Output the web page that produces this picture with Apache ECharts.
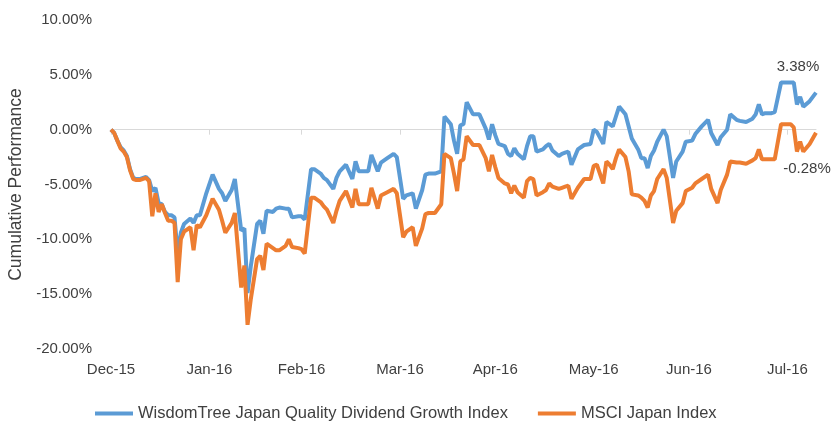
<!DOCTYPE html>
<html>
<head>
<meta charset="utf-8">
<script src="https://cdn.jsdelivr.net/npm/echarts@6/dist/echarts.min.js"></script>
<style>
  html, body { margin: 0; padding: 0; background: #fff; }
  #main { width: 831px; height: 421px; }
</style>
</head>
<body>
<div id="main"></div>
<script>
// cumulative performance, %
const dates = [
  '2015-12-31','2016-01-01','2016-01-02','2016-01-03','2016-01-04','2016-01-05','2016-01-06','2016-01-07','2016-01-08','2016-01-09',
  '2016-01-11','2016-01-12','2016-01-13','2016-01-14','2016-01-15','2016-01-16','2016-01-17','2016-01-18','2016-01-19','2016-01-20',
  '2016-01-21','2016-01-22','2016-01-23','2016-01-25','2016-01-26','2016-01-27','2016-01-28','2016-01-30','2016-02-01','2016-02-03',
  '2016-02-04','2016-02-05','2016-02-07','2016-02-08','2016-02-10','2016-02-11','2016-02-12','2016-02-13','2016-02-15','2016-02-16',
  '2016-02-17','2016-02-18','2016-02-20','2016-02-21','2016-02-22','2016-02-24','2016-02-25','2016-02-26','2016-02-28','2016-02-29',
  '2016-03-01','2016-03-03','2016-03-04','2016-03-06','2016-03-07','2016-03-08','2016-03-10','2016-03-11','2016-03-12','2016-03-14',
  '2016-03-16','2016-03-17','2016-03-18','2016-03-20','2016-03-21','2016-03-22','2016-03-24','2016-03-25','2016-03-27','2016-03-29',
  '2016-03-30','2016-04-01','2016-04-02','2016-04-04','2016-04-05','2016-04-07','2016-04-08','2016-04-09','2016-04-11','2016-04-13',
  '2016-04-14','2016-04-16','2016-04-17','2016-04-18','2016-04-19','2016-04-20','2016-04-21','2016-04-23','2016-04-24','2016-04-25',
  '2016-04-27','2016-04-28','2016-04-29','2016-04-30','2016-05-01','2016-05-03','2016-05-04','2016-05-05','2016-05-06','2016-05-07',
  '2016-05-09','2016-05-10','2016-05-11','2016-05-12','2016-05-13','2016-05-15','2016-05-16','2016-05-17','2016-05-18','2016-05-20',
  '2016-05-21','2016-05-22','2016-05-23','2016-05-24','2016-05-26','2016-05-28','2016-05-30','2016-05-31','2016-06-01','2016-06-03',
  '2016-06-04','2016-06-05','2016-06-06','2016-06-07','2016-06-08','2016-06-10','2016-06-11','2016-06-12','2016-06-14','2016-06-15',
  '2016-06-16','2016-06-17','2016-06-18','2016-06-19','2016-06-20','2016-06-22','2016-06-23','2016-06-25','2016-06-26','2016-06-28',
  '2016-06-29','2016-07-01','2016-07-02','2016-07-04','2016-07-06','2016-07-07','2016-07-09','2016-07-10','2016-07-12','2016-07-13',
  '2016-07-15','2016-07-16','2016-07-18','2016-07-20','2016-07-21','2016-07-22','2016-07-23','2016-07-24','2016-07-26','2016-07-27',
  '2016-07-29','2016-07-31','2016-08-01','2016-08-02','2016-08-03','2016-08-04','2016-08-05','2016-08-07','2016-08-09'
];

const wisdomTree = [
  0, -0.3, -1.0, -1.6, -1.9, -2.4, -3.6, -4.4, -4.5, -4.5,
  -4.3, -4.6, -5.6, -5.3, -6.7, -6.8, -7.5, -7.8, -7.8, -8.0,
  -11.3, -9.4, -8.6, -8.1, -8.5, -7.8, -7.8, -5.8, -4.1, -5.4,
  -5.8, -6.5, -5.5, -4.5, -9.2, -9.0, -14.9, -12.5, -8.6, -8.3,
  -9.5, -7.4, -7.5, -7.2, -7.1, -7.2, -7.2, -8.0, -7.9, -7.9,
  -8.2, -3.6, -3.6, -4.0, -4.4, -4.6, -5.4, -4.4, -3.8, -3.2,
  -4.5, -2.9, -3.8, -3.8, -3.8, -2.3, -3.8, -3.0, -2.6, -2.2,
  -2.5, -6.3, -6.0, -5.8, -7.2, -5.5, -4.1, -4.0, -4.0, -3.8,
  1.2, 0.5, -1.0, -2.2, 0.4, 0.5, 2.5, 1.4, 1.4, 1.4,
  0.1, -0.9, 0.5, -0.5, -1.3, -1.5, -2.2, -2.4, -1.7, -2.2,
  -2.7, -1.5, -0.6, -0.6, -2.0, -1.8, -1.5, -1.3, -1.9, -2.4,
  -2.2, -2.1, -2.0, -3.2, -1.8, -1.4, -1.3, 0.0, -0.2, -1.3,
  0.7, 0.5, 0.3, 1.2, 2.1, 1.4, 0.3, -0.8, -1.8, -2.6,
  -2.6, -3.5, -2.4, -1.9, -1.1, 0.0, -0.6, -4.4, -2.9, -2.0,
  -1.1, -1.0, -0.4, 0.3, 0.9, -0.3, -1.4, -0.7, 0.0, 1.4,
  0.9, 0.8, 0.7, 1.0, 1.4, 2.3, 1.4, 1.5, 1.5, 1.6,
  4.3, 4.3, 4.3, 4.3, 2.3, 3.0, 2.1, 2.6, 3.38
];

const msciJapan = [
  0, -0.3, -1.0, -1.7, -2.0, -2.5, -3.7, -4.5, -4.6, -4.6,
  -4.4, -4.7, -7.9, -5.8, -7.5, -6.8, -7.6, -8.3, -8.3, -8.5,
  -13.9, -10.0, -9.3, -8.9, -11.0, -8.7, -8.9, -7.8, -6.3, -7.3,
  -8.3, -9.4, -8.5, -7.6, -14.4, -12.4, -17.8, -15.5, -11.8, -11.5,
  -12.8, -10.4, -10.8, -11.0, -11.0, -10.6, -10.0, -10.7, -10.8, -10.9,
  -11.3, -6.2, -6.2, -6.6, -7.0, -7.3, -8.5, -7.4, -6.5, -5.6,
  -7.1, -5.4, -6.8, -6.8, -6.8, -5.3, -7.2, -6.0, -5.7, -5.4,
  -5.8, -9.8, -9.3, -8.9, -10.6, -9.0, -7.7, -7.6, -7.6, -6.8,
  -2.2, -2.6, -4.0, -5.6, -2.9, -2.7, -0.6, -1.4, -1.4, -1.4,
  -2.6, -3.8, -2.3, -3.4, -4.4, -4.9, -5.0, -5.8, -5.1, -5.7,
  -6.2, -4.7, -4.4, -4.5, -6.0, -5.7, -5.5, -4.9, -5.2, -5.4,
  -5.3, -5.2, -5.1, -6.3, -5.3, -4.5, -4.5, -3.3, -3.2, -4.9,
  -2.9, -3.2, -3.6, -2.6, -1.8, -2.5, -3.8, -5.9, -6.0, -6.2,
  -6.5, -7.1, -6.0, -5.6, -4.5, -3.6, -4.4, -8.5, -7.4, -6.7,
  -5.6, -5.3, -4.9, -4.5, -4.1, -5.4, -6.7, -5.5, -4.1, -2.9,
  -3.0, -3.0, -3.1, -2.8, -2.6, -1.8, -2.7, -2.7, -2.7, -2.7,
  0.5, 0.5, 0.5, 0.2, -2.0, -1.1, -2.0, -1.3, -0.28
];

const tickDates = ['2015-12-31', '2016-01-31', '2016-02-29', '2016-03-31', '2016-04-30', '2016-05-31', '2016-06-30', '2016-07-31'];
const tickLabels = ['Dec-15', 'Jan-16', 'Feb-16', 'Mar-16', 'Apr-16', 'May-16', 'Jun-16', 'Jul-16'];

const FONT = 'Liberation Sans';
const TEXT = '#404040';

// one category per calendar day, so the axis spacing follows the dates
const days = [];
{
  const start = Date.UTC(2015, 11, 31);
  const end = Date.UTC(2016, 7, 9);
  for (let t = start; t <= end; t += 86400000) {
    days.push(new Date(t).toISOString().slice(0, 10));
  }
}

const isTick = (idx, val) => tickDates.indexOf(val) >= 0;
const pairs = vals => dates.map((d, i) => [d, vals[i]]);

const chart = echarts.init(document.getElementById('main'));

chart.setOption({
  animation: false,
  textStyle: { fontFamily: FONT },
  grid: { left: 111, right: 15, top: 20, bottom: 72, containLabel: false, outerBoundsMode: 'none' },
  legend: {
    left: 90,
    top: 400,
    icon: 'rect',
    itemWidth: 38,
    itemHeight: 4,
    itemGap: 30,
    textStyle: { fontSize: 16.5, color: TEXT, fontFamily: FONT }
  },
  xAxis: [
    {
      // zero line with month ticks
      type: 'category',
      data: days,
      boundaryGap: false,
      position: 'bottom',
      axisLine: { onZero: true, lineStyle: { color: '#d9d9d9', width: 1 } },
      axisTick: { show: true, interval: isTick, length: 5, lineStyle: { color: '#d9d9d9' } },
      axisLabel: { show: false },
      splitLine: { show: false }
    },
    {
      // month labels along the bottom
      type: 'category',
      data: days,
      boundaryGap: false,
      position: 'bottom',
      axisLine: { show: false, onZero: false },
      axisTick: { show: false },
      axisLabel: {
        interval: isTick,
        formatter: v => tickLabels[tickDates.indexOf(v)],
        margin: 13,
        fontSize: 15,
        color: TEXT,
        fontFamily: FONT
      },
      splitLine: { show: false }
    }
  ],
  yAxis: {
    type: 'value',
    min: -20,
    max: 10,
    interval: 5,
    name: 'Cumulative Performance',
    nameLocation: 'middle',
    nameRotate: 90,
    nameGap: 85,
    nameTextStyle: { fontSize: 17.5, color: TEXT, fontFamily: FONT },
    axisLine: { show: false },
    axisTick: { show: false },
    splitLine: { show: false },
    axisLabel: {
      formatter: v => v.toFixed(2) + '%',
      margin: 19,
      fontSize: 15,
      color: TEXT,
      fontFamily: FONT
    }
  },
  series: [
    {
      name: 'WisdomTree Japan Quality Dividend Growth Index',
      type: 'line',
      xAxisIndex: 0,
      data: pairs(wisdomTree),
      showSymbol: false,
      color: '#5B9BD5',
      lineStyle: { width: 4, color: '#5B9BD5' },
      endLabel: {
        show: true,
        formatter: p => p.value[1].toFixed(2) + '%',
        distance: 0,
        align: 'center',
        verticalAlign: 'middle',
        offset: [-18, -26],
        fontSize: 15,
        color: TEXT,
        fontFamily: FONT
      }
    },
    {
      name: 'MSCI Japan Index',
      type: 'line',
      xAxisIndex: 0,
      data: pairs(msciJapan),
      showSymbol: false,
      color: '#ED7D31',
      lineStyle: { width: 4, color: '#ED7D31' },
      endLabel: {
        show: true,
        formatter: p => p.value[1].toFixed(2) + '%',
        distance: 0,
        align: 'center',
        verticalAlign: 'middle',
        offset: [-9, 36],
        fontSize: 15,
        color: TEXT,
        fontFamily: FONT
      }
    }
  ]
});

window.addEventListener('resize', () => {
  chart.resize();
});
</script>
</body>
</html>
